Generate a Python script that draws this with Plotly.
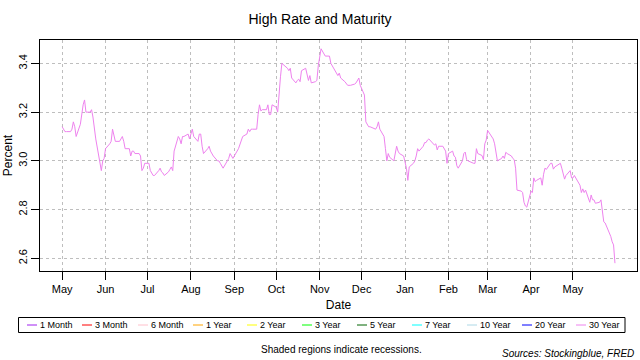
import pandas as pd
import plotly.graph_objects as go

# ---- data: 30-year rate, daily (business days) ----
holidays = ["2018-05-28", "2018-07-04", "2018-09-03", "2018-10-08", "2018-11-12",
            "2018-11-22", "2018-12-05", "2018-12-25", "2019-01-01", "2019-01-21",
            "2019-02-18", "2019-04-19", "2019-05-27"]

may18 = [3.14, 3.13, 3.12, 3.12, 3.12, 3.13, 3.16, 3.14, 3.10, 3.15, 3.20, 3.23, 3.25, 3.20,
         3.20, 3.21, 3.18, 3.13, 3.09, 2.96, 3.00, 3.01]
jun18 = [3.05, 3.07, 3.08, 3.13, 3.10, 3.08, 3.08, 3.09, 3.10, 3.08, 3.05, 3.05, 3.02, 3.04,
         3.04, 3.03, 3.03, 3.02, 2.96, 2.97, 2.99]
jul18 = [2.99, 2.96, 2.94, 2.94, 2.96, 2.97, 2.955, 2.95, 2.94, 2.955, 2.965, 2.975, 2.96,
         3.04, 3.10, 3.09, 3.07, 3.10, 3.10, 3.11, 3.09]
aug18 = [3.11, 3.13, 3.10, 3.08, 3.11, 3.11, 3.06, 3.03, 3.05, 3.06, 3.04, 3.03, 3.02, 3.00,
         3.00, 2.99, 2.98, 2.97, 3.00, 3.01, 3.03, 3.02, 3.01]
sep18 = [3.05, 3.07, 3.09, 3.10, 3.11, 3.13, 3.12, 3.13, 3.13, 3.13, 3.19, 3.23, 3.205, 3.21,
         3.21, 3.23, 3.19, 3.19, 3.23]
oct18 = [3.22, 3.20, 3.29, 3.345, 3.40, 3.38, 3.37, 3.38, 3.34, 3.32, 3.33, 3.335, 3.325,
         3.37, 3.38, 3.36, 3.33, 3.35, 3.32, 3.325, 3.33, 3.39]
nov18 = [3.42, 3.46, 3.43, 3.43, 3.43, 3.43, 3.40, 3.36, 3.35, 3.36, 3.34, 3.325, 3.315,
         3.31, 3.31, 3.315, 3.32, 3.33, 3.34, 3.31]
dec18 = [3.27, 3.16, 3.14, 3.14, 3.13, 3.13, 3.14, 3.16, 3.13, 3.10, 3.05, 3.00, 3.03, 3.015,
         3.00, 3.06, 3.04, 3.03, 3.02]
jan19 = [2.97, 2.92, 2.975, 2.99, 3.00, 3.02, 3.05, 3.04, 3.06, 3.075, 3.075, 3.085, 3.09,
         3.065, 3.07, 3.045, 3.06, 3.06, 3.05, 3.04, 2.99]
feb19 = [3.03, 3.04, 3.02, 3.015, 2.98, 2.97, 3.00, 3.03, 3.036, 3.005, 3.00, 2.99, 2.99,
         3.05, 3.03, 3.022, 3.005, 3.07, 3.085]
mar19 = [3.125, 3.10, 3.09, 3.07, 3.04, 3.00, 3.01, 3.02, 3.01, 3.035, 3.03, 3.02, 3.01,
         3.005, 2.97, 2.88, 2.876, 2.87, 2.83, 2.815, 2.81]
apr19 = [2.875, 2.87, 2.93, 2.915, 2.92, 2.93, 2.90, 2.945, 2.97, 2.965, 2.99, 2.99, 2.966,
         2.975, 2.99, 2.97, 2.95, 2.925, 2.94, 2.96, 2.93]
may19 = [2.93, 2.94, 2.93, 2.90, 2.87, 2.885, 2.87, 2.88, 2.83, 2.86, 2.84, 2.84, 2.826,
         2.83, 2.84, 2.785, 2.75, 2.745, 2.69, 2.668, 2.655, 2.58]

months = [("2018-05", may18), ("2018-06", jun18), ("2018-07", jul18), ("2018-08", aug18),
          ("2018-09", sep18), ("2018-10", oct18), ("2018-11", nov18), ("2018-12", dec18),
          ("2019-01", jan19), ("2019-02", feb19), ("2019-03", mar19), ("2019-04", apr19),
          ("2019-05", may19)]

tick_dates = ["2018-05-01", "2018-06-01", "2018-07-01", "2018-08-01", "2018-09-01",
              "2018-10-01", "2018-11-01", "2018-12-01", "2019-01-01", "2019-02-01",
              "2019-03-01", "2019-04-01", "2019-05-01"]
tick_labels = ["May", "Jun", "Jul", "Aug", "Sep", "Oct", "Nov", "Dec", "Jan", "Feb", "Mar",
               "Apr", "May"]
y_ticks = [2.6, 2.8, 3.0, 3.2, 3.4]

series_names = ["1 Month", "3 Month", "6 Month", "1 Year", "2 Year", "3 Year", "5 Year",
                "7 Year", "10 Year", "20 Year", "30 Year"]
series_colors = ["#A020F0", "#FF0000", "#FFC0CB", "#FFA500", "#FFFF00", "#00FF00",
                 "#006400", "#00FFFF", "#ADD8E6", "#0000FF", "#EE82EE"]

# ---- build dates ----
dates, values = [], []
for ym, vals in months:
    start = pd.Timestamp(ym + "-01")
    end = start + pd.offsets.MonthEnd(0)
    d = pd.bdate_range(start, end, freq="C", holidays=holidays)
    n = min(len(d), len(vals))
    dates.extend(list(d[:n]))
    values.extend(vals[:n])

FONT = "Liberation Sans, Arial, sans-serif"

fig = go.Figure()
fig.add_trace(go.Scatter(x=dates, y=values, mode="lines", name="30 Year",
                         line=dict(color=series_colors[-1], width=1)))

# plot area in pixels: x 40..637, y 40..271
L, R, T, B = 40, 637, 40, 271
W, H = R - L, B - T


def px(x):
    return (x - L) / W


def py(y):
    return (B - y) / H


fig.update_layout(
    width=640, height=360,
    margin=dict(l=L, r=640 - R, t=T, b=360 - B),
    paper_bgcolor="white", plot_bgcolor="white",
    showlegend=False,
    font=dict(family=FONT, color="black", size=11),
    title=dict(text="High Rate and Maturity", x=0.5, xanchor="center",
               y=1 - 19 / 360, yanchor="middle", yref="container",
               font=dict(size=14, family=FONT, color="black")),
)

fig.update_xaxes(
    type="date",
    range=["2018-04-15 04:00", "2019-06-15 18:00"],
    tickmode="array", tickvals=tick_dates, ticktext=tick_labels,
    showgrid=True, gridcolor="#BEBEBE", griddash="dot", gridwidth=1,
    showline=True, mirror=True, linecolor="black", linewidth=1,
    ticks="outside", ticklen=8, tickcolor="black", tickwidth=1,
    tickfont=dict(size=11, family=FONT),
    zeroline=False,
    title=dict(text="Date", standoff=6, font=dict(size=12, family=FONT)),
)
fig.update_yaxes(
    range=[2.548, 3.496],
    tickmode="array", tickvals=y_ticks, ticktext=[f"{v:.1f}" for v in y_ticks],
    tickangle=-90,
    showgrid=True, gridcolor="#BEBEBE", griddash="dot", gridwidth=1,
    showline=True, mirror=True, linecolor="black", linewidth=1,
    ticks="outside", ticklen=8, tickcolor="black", tickwidth=1,
    tickfont=dict(size=11, family=FONT),
    zeroline=False,
    title=dict(text="Percent", standoff=1, font=dict(size=12, family=FONT)),
)

# legend box
fig.add_shape(type="rect", xref="paper", yref="paper",
              x0=px(18.5), x1=px(625), y0=py(332.5), y1=py(317.5),
              line=dict(color="black", width=1), fillcolor="rgba(0,0,0,0)")
leg_x = [27, 82, 138, 193, 247, 302, 357, 412, 467, 522, 576]
for xpos, name, col in zip(leg_x, series_names, series_colors):
    fig.add_shape(type="line", xref="paper", yref="paper",
                  x0=px(xpos), x1=px(xpos + 10), y0=py(325), y1=py(325),
                  line=dict(color=col, width=1))
    fig.add_annotation(xref="paper", yref="paper", x=px(xpos + 11), y=py(325),
                       xanchor="left", yanchor="middle", showarrow=False,
                       text=name, font=dict(size=9, family=FONT, color="black"))

fig.add_annotation(xref="paper", yref="paper", x=px(341), y=py(349),
                   xanchor="center", yanchor="middle", showarrow=False,
                   text="Shaded regions indicate recessions.",
                   font=dict(size=10, family=FONT, color="black"))
fig.add_annotation(xref="paper", yref="paper", x=px(636), y=py(353),
                   xanchor="right", yanchor="middle", showarrow=False,
                   text="<i>Sources: Stockingblue, FRED</i>",
                   font=dict(size=10, family=FONT, color="black"))

fig.write_html("out.html", config={"displayModeBar": False},
               post_script="document.body.style.margin='0';document.body.style.padding='0';")
